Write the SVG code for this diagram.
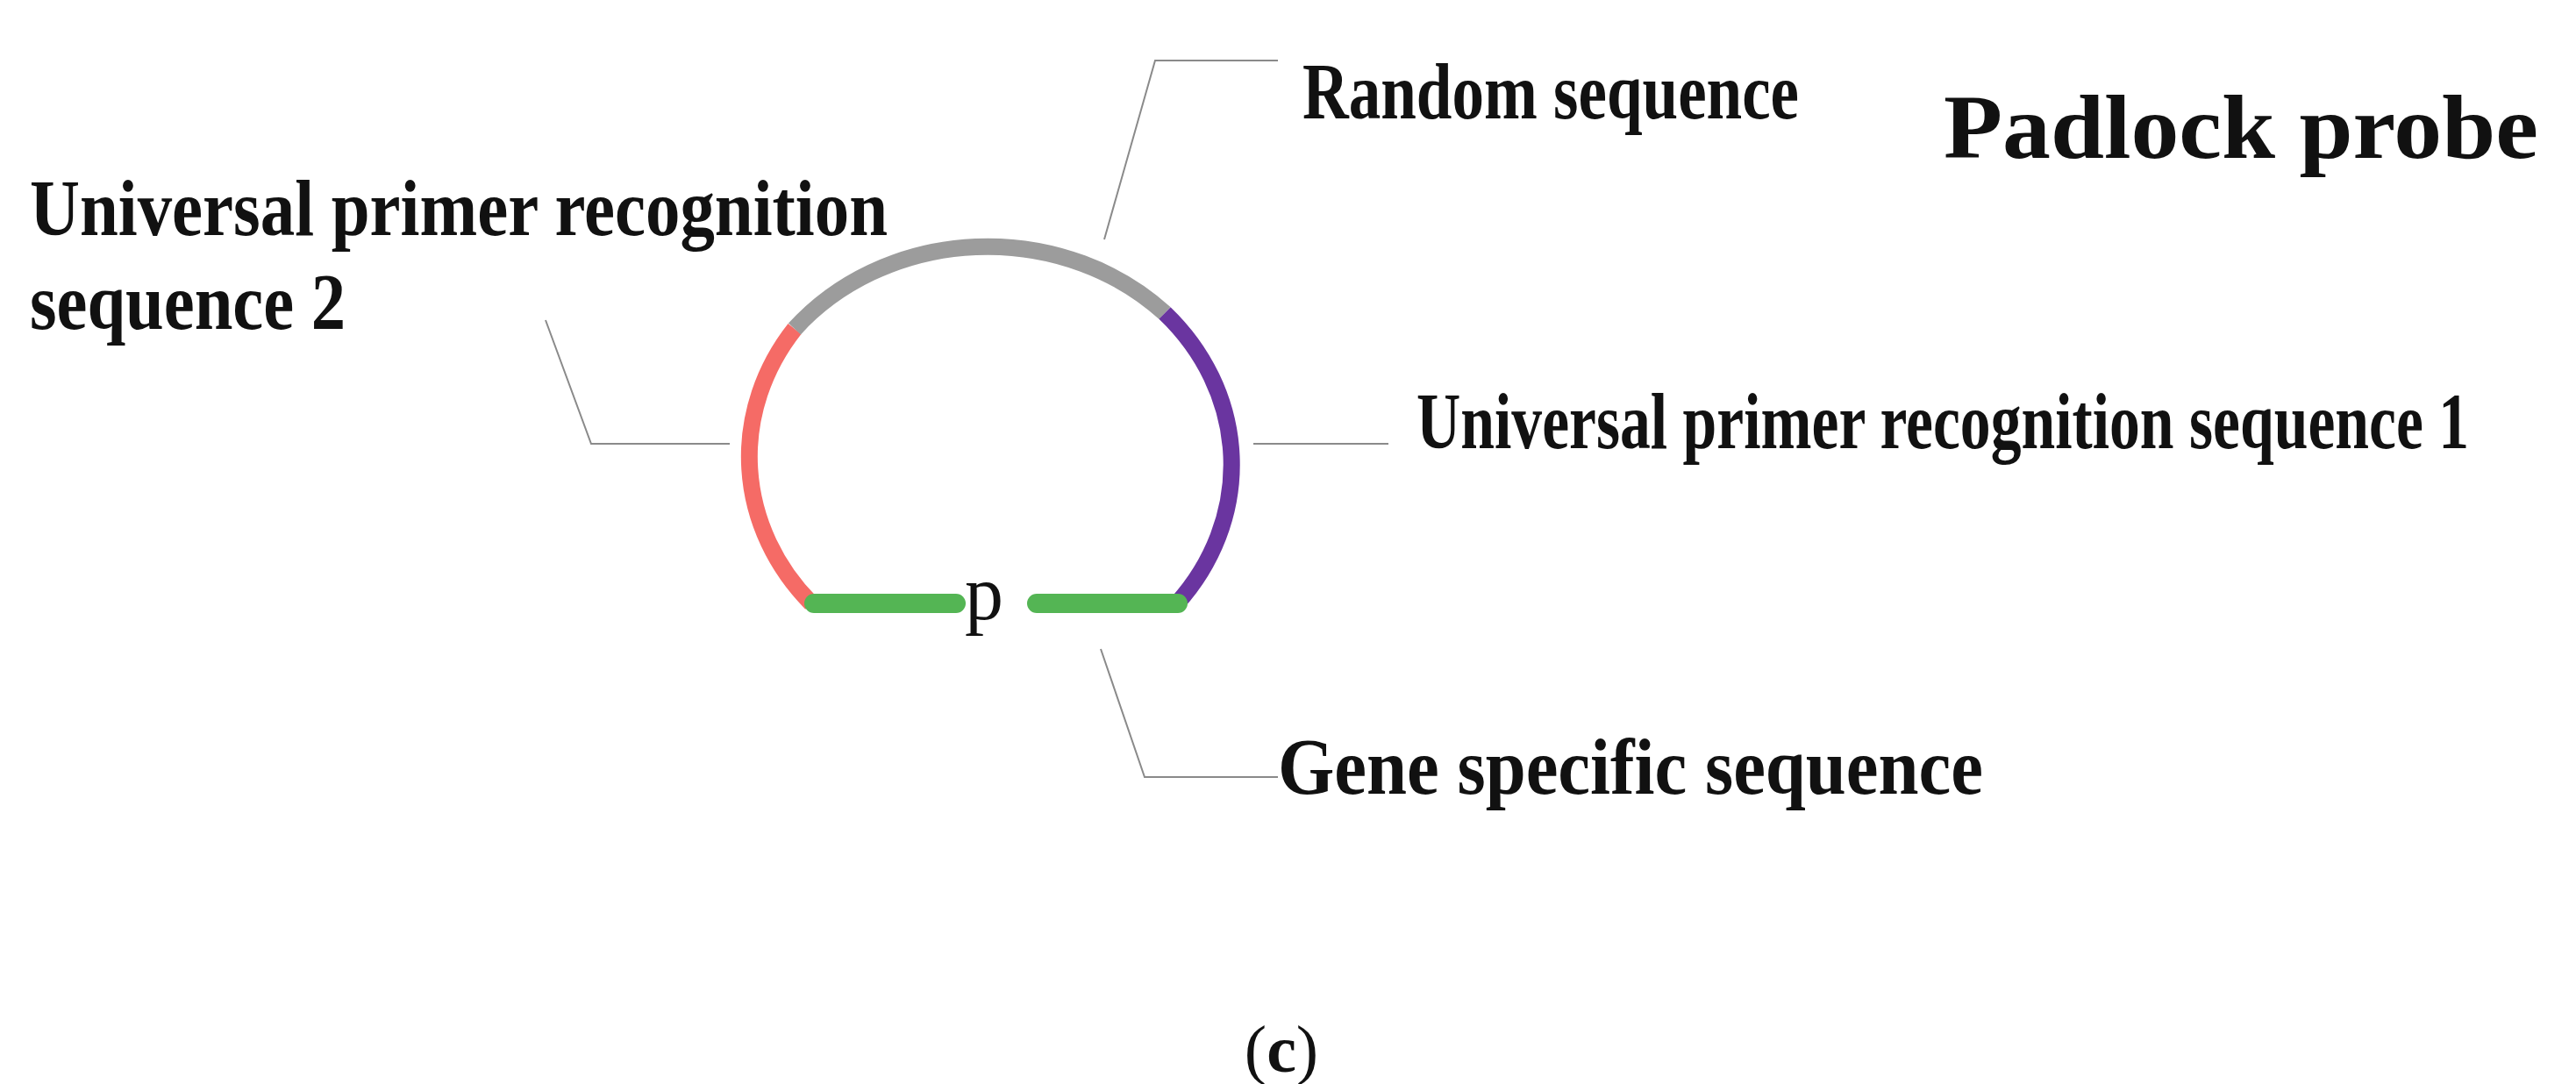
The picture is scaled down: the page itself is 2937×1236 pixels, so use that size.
<svg xmlns="http://www.w3.org/2000/svg" width="2937" height="1236" viewBox="0 0 2937 1236">
<style>
.seg{fill:none;stroke-width:19}
.bar{stroke:#54b554;stroke-width:22;stroke-linecap:round}
.lead{fill:none;stroke:#8a8a8a;stroke-width:2}
.t{font-family:"Liberation Serif",serif;font-weight:bold;fill:#111}
</style>
<rect width="2937" height="1236" fill="#fff"/>
<g id="probe">
<path class="seg" stroke="#f56b66" d="M925,688 A283,253 0 0 1 906,375"/>
<path class="seg" stroke="#9c9c9c" d="M906,375 A283,253 0 0 1 1328,357"/>
<path class="seg" stroke="#6a35a0" d="M1328,357 A283,253 0 0 1 1342,688"/>
<line class="bar" x1="928" y1="688" x2="1090" y2="688"/>
<line class="bar" x1="1182" y1="688" x2="1343" y2="688"/>
<text x="1122" y="706" font-family="Liberation Serif,serif" font-size="88" text-anchor="middle" fill="#111">p</text>
</g>
<g id="connectors">
<polyline class="lead" points="1259,273 1317,69 1457,69"/>
<polyline class="lead" points="832,506 674,506 622,365"/>
<polyline class="lead" points="1429,506 1583,506"/>
<polyline class="lead" points="1255,740 1305,886 1457,886"/>
</g>
<g id="label-random"><text class="t" x="1485" y="135" font-size="90" textLength="566" lengthAdjust="spacingAndGlyphs">Random sequence</text></g>
<g id="title"><text class="t" x="2216" y="180" font-size="104" textLength="678" lengthAdjust="spacingAndGlyphs">Padlock probe</text></g>
<g id="label-upr2"><text class="t" x="34" y="268" font-size="90" textLength="978" lengthAdjust="spacingAndGlyphs">Universal primer recognition</text>
<text class="t" x="34" y="375" font-size="90" textLength="360" lengthAdjust="spacingAndGlyphs">sequence 2</text></g>
<g id="label-upr1"><text class="t" x="1615" y="511" font-size="90" textLength="1200" lengthAdjust="spacingAndGlyphs">Universal primer recognition sequence 1</text></g>
<g id="label-gene"><text class="t" x="1457" y="905" font-size="90" textLength="804" lengthAdjust="spacingAndGlyphs">Gene specific sequence</text></g>
<g id="caption"><text x="1461" y="1222" font-family="Liberation Serif,serif" font-size="76" text-anchor="middle" fill="#111">(<tspan font-weight="bold">c</tspan>)</text></g>
</svg>
